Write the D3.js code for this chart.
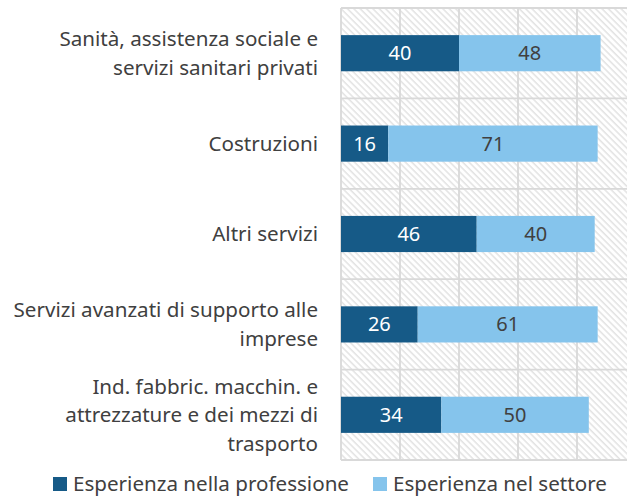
<!doctype html>
<html>
<head>
<meta charset="utf-8">
<script src="https://cdn.jsdelivr.net/npm/d3@7"></script>
<style>
  body { margin: 0; background: #fff; }
  text { font-family: "Noto Sans", sans-serif; }
</style>
</head>
<body>
<svg width="627" height="497"></svg>
<script>
// categories (line breaks as in the original chart)
var categories = [
  "Sanità, assistenza sociale e\nservizi sanitari privati",
  "Costruzioni",
  "Altri servizi",
  "Servizi avanzati di supporto alle\nimprese",
  "Ind. fabbric. macchin. e\nattrezzature e dei mezzi di\ntrasporto"
];
var professione = [40, 16, 46, 26, 34];
var settore = [48, 71, 40, 61, 50];
var seriesNames = ["Esperienza nella professione", "Esperienza nel settore"];
var xTicks = [0, 20, 40, 60, 80, 100];

var colors = ["#165a87", "#85c4ec"];
var fontSize = 20.6;
var svg = d3.select("svg");

var x = d3.scaleLinear().domain([0, 100]).range([341, 636]);
var y = d3.scaleBand().domain(categories).range([8, 460]).paddingInner(0.6).paddingOuter(0.3);
var yGrid = d3.scaleBand().domain(categories).range([8, 460]);

// hatch background
var defs = svg.append("defs");
var pat = defs.append("pattern")
    .attr("id", "hatch")
    .attr("patternUnits", "userSpaceOnUse")
    .attr("width", 4.5).attr("height", 4.5)
    .attr("patternTransform", "rotate(-45)");
pat.append("line")
    .attr("x1", 1).attr("y1", 0).attr("x2", 1).attr("y2", 4.5)
    .attr("stroke", "#dedede").attr("stroke-width", 1.3);

svg.append("rect")
    .attr("x", x(0)).attr("y", 8)
    .attr("width", x(100) - x(0)).attr("height", 452)
    .attr("fill", "url(#hatch)");

// grid
svg.append("g").selectAll("line").data(xTicks).enter().append("line")
    .attr("x1", function(d) { return x(d); }).attr("x2", function(d) { return x(d); })
    .attr("y1", 8).attr("y2", 460)
    .attr("stroke", "#d9d9d9").attr("stroke-width", 1.8);

var hLines = categories.map(function(c) { return yGrid(c); }).concat([460]);
svg.append("g").selectAll("line").data(hLines).enter().append("line")
    .attr("x1", x(0)).attr("x2", x(100))
    .attr("y1", function(d) { return d; }).attr("y2", function(d) { return d; })
    .attr("stroke", "#d9d9d9").attr("stroke-width", 1.8);

// stacked bars
var rows = categories.map(function(c, i) {
  return { cat: c, segs: [[0, professione[i]], [professione[i], professione[i] + settore[i]]] };
});

rows.forEach(function(r) {
  r.segs.forEach(function(s, j) {
    svg.append("rect")
        .attr("x", x(s[0])).attr("y", y(r.cat))
        .attr("width", x(s[1]) - x(s[0])).attr("height", y.bandwidth())
        .attr("fill", colors[j]);
    svg.append("text")
        .attr("x", (x(s[0]) + x(s[1])) / 2)
        .attr("y", y(r.cat) + y.bandwidth() / 2)
        .attr("dy", "0.35em")
        .attr("text-anchor", "middle")
        .attr("font-size", 20)
        .attr("fill", j === 0 ? "#fff" : "#404040")
        .text(s[1] - s[0]);
  });
});

// category labels
categories.forEach(function(c) {
  var lines = c.split("\n");
  var cy = y(c) + y.bandwidth() / 2;
  var t = svg.append("text")
      .attr("text-anchor", "end")
      .attr("font-size", fontSize)
      .attr("fill", "#404040");
  lines.forEach(function(l, k) {
    t.append("tspan")
        .attr("x", 318)
        .attr("y", cy + (k - (lines.length - 1) / 2) * 28.5)
        .attr("dy", "0.35em")
        .text(l);
  });
});

// legend
var legX = [53, 373];
seriesNames.forEach(function(n, i) {
  svg.append("rect")
      .attr("x", legX[i]).attr("y", 477)
      .attr("width", 14).attr("height", 14)
      .attr("fill", colors[i]);
  svg.append("text")
      .attr("x", legX[i] + 20).attr("y", 483.5)
      .attr("dy", "0.35em")
      .attr("font-size", fontSize)
      .attr("fill", "#404040")
      .text(n);
});
</script>
</body>
</html>
